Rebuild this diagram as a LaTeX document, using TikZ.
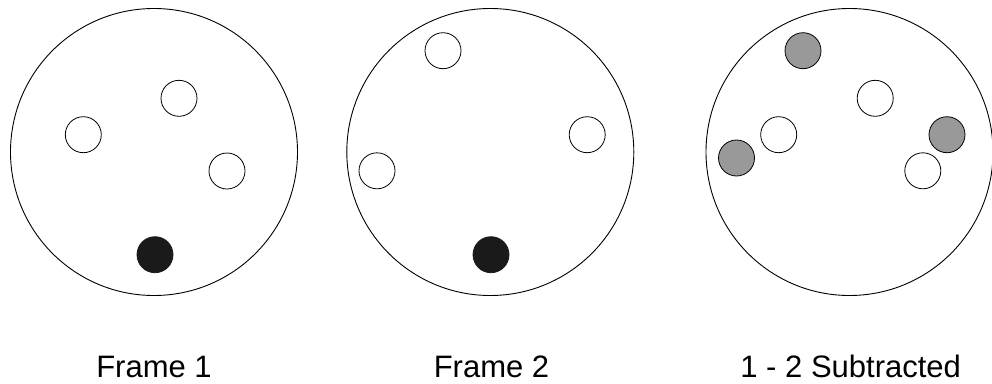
\documentclass[tikz,border=0pt]{standalone}
\usepackage{fontspec}
\setmainfont{Liberation Sans}
\usetikzlibrary{positioning}
\definecolor{spotgray}{HTML}{999999}
\definecolor{spotdark}{HTML}{1A1A1A}

\begin{document}
\begin{tikzpicture}[
    x=1pt,y=-1pt,
    frame/.style={draw,circle,line width=0.9pt,minimum size=287pt,inner sep=0pt},
    spot/.style={draw,circle,line width=0.8pt,minimum size=36pt,inner sep=0pt,fill=white},
    hit/.style={spot,fill=spotdark,draw=spotdark},
    moved/.style={spot,fill=spotgray},
    lbl/.style={anchor=base,font=\fontsize{31}{36}\selectfont}
  ]
    \useasboundingbox (0,0) rectangle (992,383);
    % the three frames
    \node[frame] (f1) at (154,152) {};
    \node[frame] (f2) at (490.3,152) {};
    \node[frame] (f3) at (849.5,152) {};
    % frame 1
    \node[spot] (a1) at (179,98.3) {};
    \node[spot] (a2) at (83.3,134.7) {};
    \node[spot] (a3) at (227,171) {};
    \node[hit] (a4) at (155,254.7) {};
    % frame 2
    \node[spot] (b1) at (443,50.7) {};
    \node[spot] (b2) at (587.2,134.7) {};
    \node[spot] (b3) at (377,170.8) {};
    \node[hit] (b4) at (491,254.7) {};
    % difference
    \node[moved] (c1) at (803,50.7) {};
    \node[spot] (c2) at (875.2,98.3) {};
    \node[spot] (c3) at (778.7,134.7) {};
    \node[moved] (c4) at (736.5,158) {};
    \node[moved] (c5) at (947,134.7) {};
    \node[spot] (c6) at (922.8,170.8) {};
    % captions
    \node[lbl] (l1) at (154,377.7) {Frame 1};
    \node[lbl] (l2) at (491.5,377.7) {Frame 2};
    \node[lbl] (l3) at (850.7,377.7) {1 - 2 Subtracted};
  \end{tikzpicture}
\end{document}
